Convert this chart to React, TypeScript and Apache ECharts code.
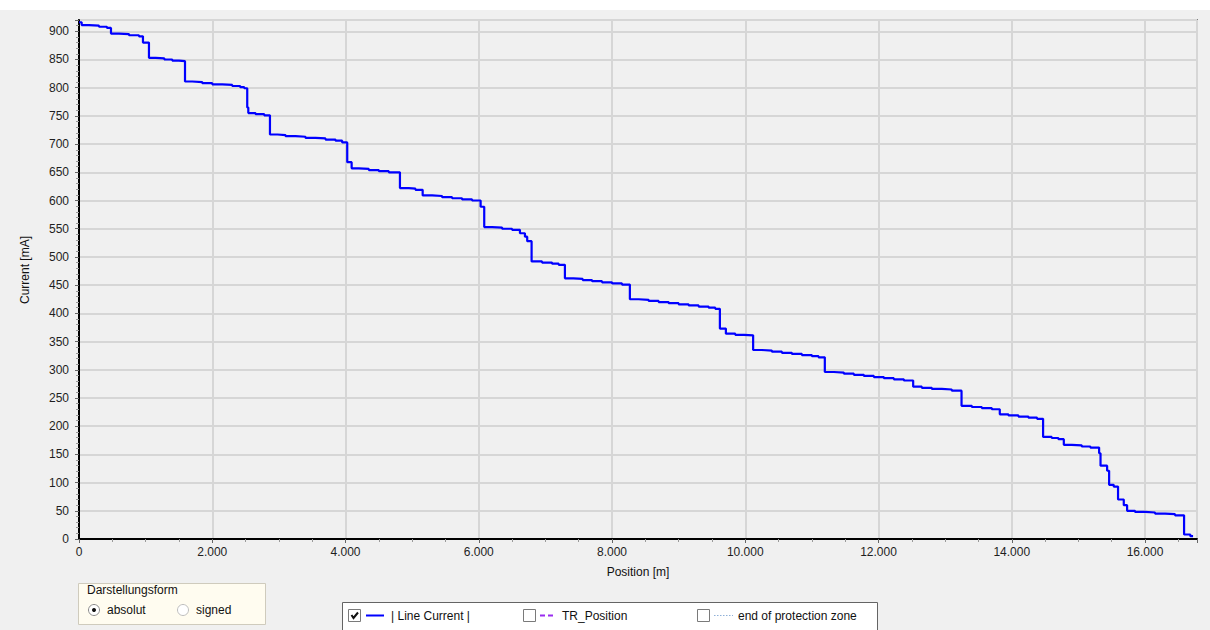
import React, { useEffect, useRef } from "react";
import * as echarts from "echarts";

// Position [m] where the current level changes, and the new level [mA]
const positions: number[] = [
  0, 40, 150, 300, 420, 480, 600, 750, 900, 960, 1050, 1150, 1280, 1400, 1500, 1591, 1700, 1850,
  2000, 2150, 2300, 2420, 2480, 2525, 2541, 2650, 2780, 2866, 2980, 3100, 3250, 3400, 3550, 3700,
  3850, 3950, 4026, 4092, 4200, 4350, 4500, 4650, 4817, 4950, 5050, 5158, 5300, 5450, 5600, 5750,
  5900, 6028, 6082, 6200, 6350, 6500, 6618, 6693, 6727, 6793, 6950, 7100, 7200, 7293, 7420, 7560,
  7700, 7850, 8000, 8150, 8268, 8400, 8550, 8700, 8850, 9000, 9150, 9300, 9450, 9550, 9619, 9709,
  9850, 9980, 10118, 10250, 10400, 10550, 10700, 10850, 11000, 11100, 11194, 11330, 11480, 11630,
  11780, 11930, 12080, 12230, 12380, 12520, 12650, 12800, 12950, 13100, 13246, 13400, 13550, 13700,
  13820, 13950, 14100, 14250, 14380, 14470, 14600, 14700, 14781, 14900, 15050, 15180, 15311, 15332,
  15431, 15461, 15530, 15595, 15681, 15731, 15850, 16000, 16150, 16300, 16450, 16586, 16680, 16721,
];
const currents: number[] = [
  916, 911, 910, 908, 906, 896, 895, 893, 891, 880, 853, 852, 850, 848, 847, 811, 810, 808,
  806, 805, 803, 801, 799, 765, 755, 753, 751, 717, 716, 714, 713, 711, 710, 708,
  706, 703, 668, 657, 656, 654, 652, 650, 622, 621, 619, 609, 608, 606, 604, 602,
  600, 589, 553, 552, 550, 548, 542, 536, 528, 492, 490, 488, 486, 462, 461, 459,
  457, 455, 453, 451, 425, 424, 422, 420, 418, 416, 414, 412, 410, 408, 373, 364,
  362, 361, 335, 334, 332, 330, 328, 326, 324, 322, 296, 295, 293, 291,
  289, 287, 285, 283, 281, 270, 268, 266, 265, 263, 236, 234, 232, 230,
  221, 219, 217, 215, 213, 181, 179, 177, 167, 166, 164, 162, 152, 130,
  121, 96, 93, 70, 60, 50, 48, 47, 45, 44, 42, 8, 5, 4,
];

const legendItems: string[] = ["| Line Current |", "TR_Position", "end of protection zone"];
const radioItems: string[] = ["absolut", "signed"];
const groupTitle = "Darstellungsform";
const xTitle = "Position [m]";
const yTitle = "Current [mA]";

const FONT = "Liberation Sans, Arial, sans-serif";

function fmtThousands(v: number): string {
  if (v === 0) return "0";
  const k = Math.floor(v / 1000);
  const r = Math.round(v % 1000);
  return k + "." + String(r).padStart(3, "0");
}

export default function App() {
  const ref = useRef<HTMLDivElement>(null);

  useEffect(() => {
    if (!ref.current) return;
    const chart = echarts.init(ref.current, undefined, { renderer: "svg" });
    const data = positions.map((p, i) => [p, currents[i]]);

    const checkbox = (x: number, y: number, checked: boolean) => {
      const els: any[] = [
        {
          type: "rect",
          shape: { x, y, width: 12, height: 12 },
          style: { fill: "#ffffff", stroke: "#7a7a7a", lineWidth: 1 },
        },
      ];
      if (checked) {
        els.push({
          type: "polyline",
          shape: { points: [[x + 3, y + 5.5], [x + 5, y + 8.5], [x + 9.5, y + 3]] },
          style: { stroke: "#111111", lineWidth: 2, fill: null },
        });
      }
      return els;
    };

    const option: any = {
      animation: false,
      backgroundColor: "#f0f0f0",
      grid: {
        left: 79,
        right: 13,
        top: 20,
        bottom: 91,
        show: true,
        backgroundColor: "#f0f0f0",
        borderColor: "#7f7f7f",
        borderWidth: 2,
      },
      xAxis: {
        type: "value",
        min: 0,
        max: 16780,
        interval: 2000,
        axisLine: { show: true, onZero: false, lineStyle: { color: "#000000", width: 2 } },
        axisTick: { show: true, length: 4, lineStyle: { color: "#666666" } },
        minorTick: { show: true, splitNumber: 4, length: 3, lineStyle: { color: "#999999" } },
        splitLine: { show: true, lineStyle: { color: "#d6d6d6", width: 2 } },
        axisLabel: {
          color: "#1e1e1e",
          fontFamily: FONT,
          fontSize: 12,
          margin: 7,
          showMaxLabel: false,
          formatter: (v: number) => fmtThousands(v),
        },
      },
      yAxis: {
        type: "value",
        min: 0,
        max: 920,
        interval: 50,
        axisLine: { show: true, onZero: false, lineStyle: { color: "#000000", width: 2 } },
        axisTick: { show: true, length: 4, lineStyle: { color: "#666666" } },
        minorTick: { show: true, splitNumber: 5, length: 3, lineStyle: { color: "#999999" } },
        splitLine: { show: true, lineStyle: { color: "#d6d6d6", width: 2 } },
        axisLabel: {
          color: "#1e1e1e",
          fontFamily: FONT,
          fontSize: 12,
          margin: 10,
          showMaxLabel: false,
        },
      },
      series: [
        {
          type: "line",
          name: legendItems[0],
          data,
          step: "end",
          showSymbol: false,
          symbol: "none",
          lineStyle: { color: "#0000ff", width: 2.2 },
        },
      ],
      graphic: [
        { type: "rect", shape: { x: 0, y: 0, width: 1210, height: 10 }, style: { fill: "#ffffff" }, z: 10 },
        {
          type: "text",
          x: 25,
          y: 270,
          rotation: Math.PI / 2,
          style: { text: yTitle, fontFamily: FONT, fontSize: 12, fill: "#111111", align: "center", verticalAlign: "middle" },
        },
        {
          type: "text",
          x: 638,
          y: 572,
          style: { text: xTitle, fontFamily: FONT, fontSize: 12, fill: "#111111", align: "center", verticalAlign: "middle" },
        },
        // Darstellungsform group box
        {
          type: "rect",
          shape: { x: 78.5, y: 583.5, width: 187, height: 41 },
          style: { fill: "#fffcf0", stroke: "#cfcbbd", lineWidth: 1 },
        },
        { type: "rect", shape: { x: 86, y: 584, width: 90, height: 2 }, style: { fill: "#fffcf0" } },
        {
          type: "text",
          x: 87,
          y: 590,
          style: { text: groupTitle, fontFamily: FONT, fontSize: 12, fill: "#111111", align: "left", verticalAlign: "middle" },
        },
        { type: "circle", shape: { cx: 94, cy: 610, r: 5.5 }, style: { fill: "#ffffff", stroke: "#8a8a8a", lineWidth: 1 } },
        { type: "circle", shape: { cx: 94, cy: 610, r: 2 }, style: { fill: "#111111" } },
        {
          type: "text",
          x: 107,
          y: 610,
          style: { text: radioItems[0], fontFamily: FONT, fontSize: 12, fill: "#111111", align: "left", verticalAlign: "middle" },
        },
        { type: "circle", shape: { cx: 183, cy: 610, r: 5.5 }, style: { fill: "#ffffff", stroke: "#bdbdbd", lineWidth: 1 } },
        {
          type: "text",
          x: 196,
          y: 610,
          style: { text: radioItems[1], fontFamily: FONT, fontSize: 12, fill: "#111111", align: "left", verticalAlign: "middle" },
        },
        // Legend box
        {
          type: "rect",
          shape: { x: 342.5, y: 602.5, width: 535, height: 30 },
          style: { fill: "#ffffff", stroke: "#646464", lineWidth: 1 },
        },
        ...checkbox(348.5, 609.5, true),
        { type: "line", shape: { x1: 366, y1: 615.5, x2: 384, y2: 615.5 }, style: { stroke: "#0000ff", lineWidth: 2 } },
        {
          type: "text",
          x: 391,
          y: 616,
          style: { text: legendItems[0], fontFamily: FONT, fontSize: 12, fill: "#111111", align: "left", verticalAlign: "middle" },
        },
        ...checkbox(523.5, 609.5, false),
        {
          type: "line",
          shape: { x1: 540, y1: 615.5, x2: 556, y2: 615.5 },
          style: { stroke: "#9a2cf0", lineWidth: 2, lineDash: [5, 3] },
        },
        {
          type: "text",
          x: 562,
          y: 616,
          style: { text: legendItems[1], fontFamily: FONT, fontSize: 12, fill: "#111111", align: "left", verticalAlign: "middle" },
        },
        ...checkbox(697.5, 609.5, false),
        {
          type: "line",
          shape: { x1: 714, y1: 615.5, x2: 733, y2: 615.5 },
          style: { stroke: "#8fb0d8", lineWidth: 1, lineDash: [1.5, 1.5] },
        },
        {
          type: "text",
          x: 738,
          y: 616,
          style: { text: legendItems[2], fontFamily: FONT, fontSize: 12, fill: "#111111", align: "left", verticalAlign: "middle" },
        },
      ],
    };
    chart.setOption(option);
    return () => chart.dispose();
  }, []);

  return (
    <div
      ref={ref}
      style={{ position: "absolute", left: 0, top: 0, width: 1210, height: 630 }}
    />
  );
}
